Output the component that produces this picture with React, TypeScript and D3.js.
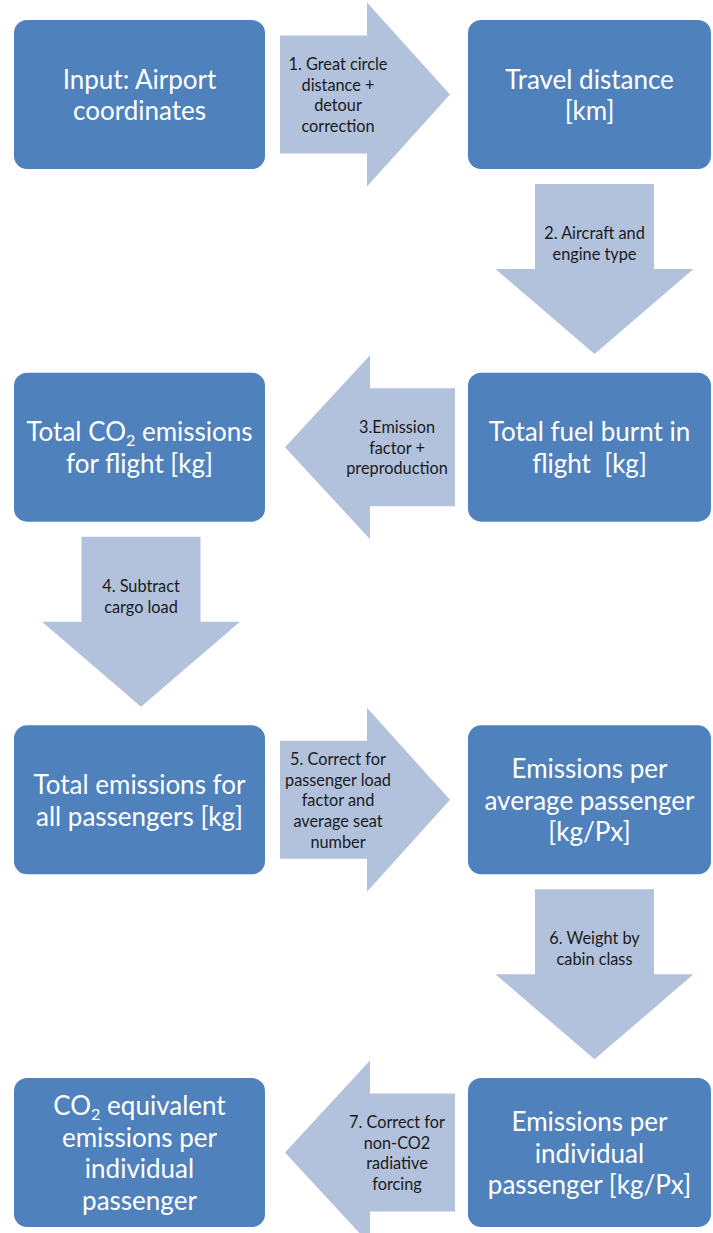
import React, { useEffect } from "react";
import * as d3 from "d3";

// ---- Data ----
const NODE_LABELS: string[][] = [
  ["Input: Airport", "coordinates"],
  ["Travel distance", "[km]"],
  ["Total fuel burnt in", "flight  [kg]"],
  ["Total CO_2 emissions", "for flight [kg]"],
  ["Total emissions for", "all passengers [kg]"],
  ["Emissions per", "average passenger", "[kg/Px]"],
  ["Emissions per", "individual", "passenger [kg/Px]"],
  ["CO_2 equivalent", "emissions per", "individual", "passenger"],
];
const NODE_ROWS = [0, 0, 1, 1, 2, 2, 3, 3];
const NODE_COLS = [0, 1, 1, 0, 0, 1, 1, 0];

const STEP_LABELS: string[][] = [
  ["1. Great circle", "distance +", "detour", "correction"],
  ["2. Aircraft and", "engine type"],
  ["3.Emission", "factor +", "preproduction"],
  ["4. Subtract", "cargo load"],
  ["5. Correct for", "passenger load", "factor and", "average seat", "number"],
  ["6. Weight by", "cabin class"],
  ["7. Correct for", "non-CO2", "radiative", "forcing"],
];

// ---- Layout / style ----
const W = 713;
const H = 1233;
const BOX_FILL = "#4F81BD";
const ARROW_FILL = "#B2C2DD";
const FONT = "Lato, 'Liberation Sans', sans-serif";

const colLeft = d3.scaleOrdinal<number, number>().domain([0, 1]).range([14, 468]);
const colWidth = d3.scaleOrdinal<number, number>().domain([0, 1]).range([251, 243]);
const rowTop = d3.scaleLinear().domain([0, 3]).range([20, 1078]);
const BOX_H = 149;

function boxOf(i: number) {
  const x = colLeft(NODE_COLS[i]);
  const y = rowTop(NODE_ROWS[i]);
  const w = colWidth(NODE_COLS[i]);
  return { x, y, w, h: BOX_H, cx: x + w / 2, cy: y + BOX_H / 2 };
}

function renderLine(line: string, fs: number) {
  if (!line.includes("_2")) return line;
  const [a, b] = line.split("_2");
  return (
    <>
      {a}
      <tspan fontSize={fs * 0.62} dy={fs * 0.3}>2</tspan>
      <tspan dy={-fs * 0.3}>{b}</tspan>
    </>
  );
}

function arrowPath(step: number) {
  const a = boxOf(step);
  const b = boxOf(step + 1);
  const p = d3.path();
  let label = { x: 0, y: 0 };
  if (NODE_ROWS[step] === NODE_ROWS[step + 1]) {
    const dir = b.cx > a.cx ? 1 : -1;
    const cy = a.cy;
    const tail = dir > 0 ? 280 : 455;
    const base = dir > 0 ? 367 : 370;
    const tip = dir > 0 ? 450 : 285;
    const sh = 59;
    const hh = 92;
    p.moveTo(tail, cy - sh);
    p.lineTo(base, cy - sh);
    p.lineTo(base, cy - hh);
    p.lineTo(tip, cy);
    p.lineTo(base, cy + hh);
    p.lineTo(base, cy + sh);
    p.lineTo(tail, cy + sh);
    p.closePath();
    label = { x: tail + dir * 58, y: cy };
  } else {
    const cx = a.cx + (NODE_COLS[step] === 1 ? 5 : 1.5);
    const top = a.y + a.h + 15;
    const sh = 59.5;
    const hh = 99;
    const base = top + 85;
    const tip = top + 170;
    p.moveTo(cx - sh, top);
    p.lineTo(cx + sh, top);
    p.lineTo(cx + sh, base);
    p.lineTo(cx + hh, base);
    p.lineTo(cx, tip);
    p.lineTo(cx - hh, base);
    p.lineTo(cx - sh, base);
    p.closePath();
    label = { x: cx, y: top + 59 };
  }
  return { d: p.toString(), label };
}

export default function App() {
  useEffect(() => {
    document.body.style.margin = "0";
  }, []);
  const boxFs = 26;
  const boxLh = 31.5;
  const stepFs = 16.3;
  const stepLh = 20.7;
  return (
    <svg width={W} height={H} style={{ display: "block", background: "#fff" }} fontFamily={FONT}>
      {STEP_LABELS.map((lines, i) => {
        const { d, label } = arrowPath(i);
        return (
          <g key={"s" + i}>
            <path d={d} fill={ARROW_FILL} />
            {lines.map((ln, j) => (
              <text
                key={j}
                x={label.x}
                y={label.y + (j - (lines.length - 1) / 2) * stepLh}
                textAnchor="middle"
                dominantBaseline="central"
                fontSize={stepFs}
                fill="#1a1a1a"
              >
                {ln}
              </text>
            ))}
          </g>
        );
      })}
      {NODE_LABELS.map((lines, i) => {
        const b = boxOf(i);
        return (
          <g key={"n" + i}>
            <rect x={b.x} y={b.y} width={b.w} height={b.h} rx={13} ry={13} fill={BOX_FILL} />
            {lines.map((ln, j) => (
              <text
                key={j}
                x={b.cx}
                y={b.cy + (j - (lines.length - 1) / 2) * boxLh}
                textAnchor="middle"
                dominantBaseline="central"
                fontSize={boxFs}
                fill="#ffffff"
                style={{ whiteSpace: "pre" }}
              >
                {renderLine(ln, boxFs)}
              </text>
            ))}
          </g>
        );
      })}
    </svg>
  );
}
